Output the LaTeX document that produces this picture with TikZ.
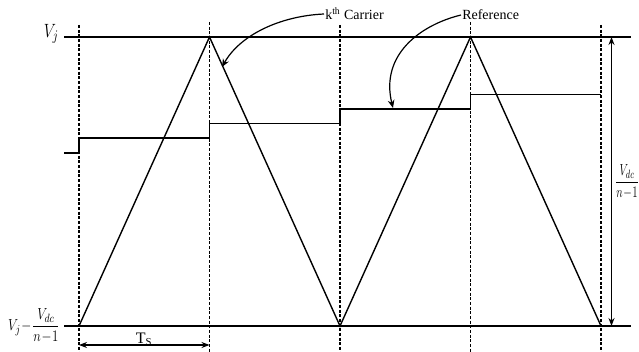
\documentclass[tikz,border=0pt]{standalone}
\usepackage{amsmath}
\usepackage{fontspec}
\setmainfont{Liberation Serif}
\usetikzlibrary{arrows.meta}

\tikzset{
  gridline/.style={line width=0.85pt, dash pattern=on 2.2pt off 1.3pt},
  wave/.style={line width=1.05pt},
  ptr/.style={line width=0.9pt, -{Stealth[length=6pt,width=5pt]}},
  dimarrow/.style={line width=0.9pt, {Stealth[length=6pt,width=4.5pt]}-{Stealth[length=6pt,width=4.5pt]}},
  txt/.style={inner sep=0.75pt, font=\fontsize{10.5}{12}\selectfont},
  mtxt/.style={inner sep=0.75pt, font=\fontsize{13}{15}\selectfont},
}
\newcommand{\narrow}[2][0.8]{\scalebox{#1}[1]{#2}}

\begin{document}
\begin{tikzpicture}[x=0.75pt,y=0.75pt,yscale=-1,xscale=1]
\useasboundingbox (0,0) rectangle (639,352);
%sampling instants
\foreach \i/\x/\y in {0/79/25,1/209.5/22,2/340/25,3/470.5/22,4/601/25} {
  \coordinate (top\i) at (\x,\y);
  \coordinate (bot\i) at (\x,352);
  \draw [gridline] (top\i) -- (bot\i);
}
%Straight Lines: limits
\coordinate (hiL) at (64,37);
\coordinate (hiR) at (631,37);
\coordinate (loL) at (64,326);
\coordinate (loR) at (631,326);
\draw [wave] (hiL) -- (hiR);
\draw [wave] (loL) -- (loR);
%carrier
\coordinate (c0) at (79,326);
\coordinate (c1) at (209.5,37);
\coordinate (c2) at (340,326);
\coordinate (c3) at (470.5,37);
\coordinate (c4) at (601,326);
\draw [wave] (c0) -- (c1) -- (c2) -- (c3) -- (c4);
%reference (staircase)
\draw [wave] (64,153) -- (79,153) -- (79,138) -- (209.5,138) -- (209.5,123.5) -- (340,123.5) -- (340,109) -- (470.5,109) -- (470.5,94.5) -- (601,94.5);
%Range arrow
\coordinate (ra) at (611.5,37);
\coordinate (rb) at (611.5,326);
\draw [dimarrow] (ra) -- (rb);
% Text Node
\node [mtxt, anchor=west, inner sep=0pt] (range) at (615,182) {\narrow[0.68]{$\dfrac{V_{dc}}{n\!-\!1}$}};
%Ts arrow
\coordinate (ts0) at (79,345);
\coordinate (ts1) at (209.5,345);
\draw [dimarrow] (ts0) -- (ts1);
% Text Node
\node [txt, anchor=south, font=\fontsize{12}{14}\selectfont] (ts) at (144,347) {T$_{\text{S}}$};
% Text Node
\node [mtxt, anchor=east, font=\fontsize{15}{17}\selectfont] (vj) at (60,34) {\narrow{$V_j$}};
% Text Node
\node [mtxt, anchor=east] (vlow) at (61,326) {\narrow{$V_j\!-\!\dfrac{V_{dc}}{n\!-\!1}$}};
% Text Node
\node [txt, anchor=west] (carrier) at (324,14) {k$^{\text{th}}$ Carrier};
% Text Node
\node [txt, anchor=west] (reference) at (461,15) {Reference};
%pointers
\coordinate (cTip) at (222,67);
\coordinate (rTip) at (393,108);
\draw [ptr] (carrier.west) .. controls (280,16) and (240,35) .. (cTip);
\draw [ptr] (reference.west) .. controls (420,25) and (380,55) .. (rTip);
\end{tikzpicture}
\end{document}
